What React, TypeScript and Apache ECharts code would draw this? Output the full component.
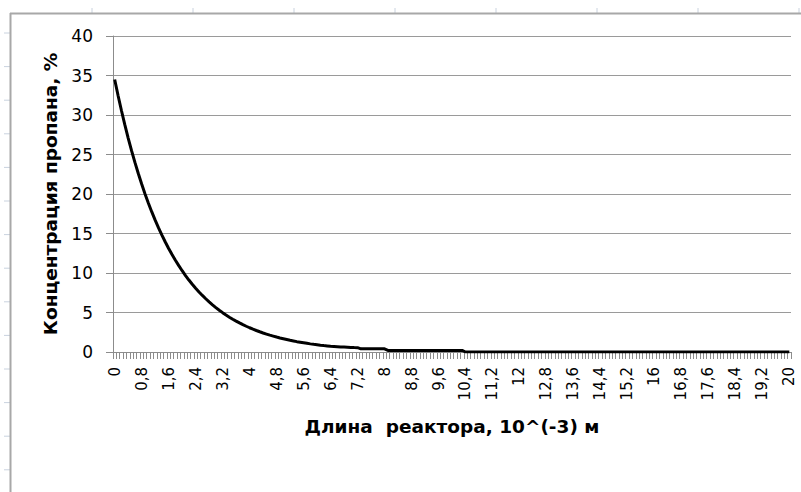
import React, { useEffect, useRef } from "react";
import * as echarts from "echarts";

// Длина реактора, 10^(-3) м : 0 .. 20 step 0.1
const categories: string[] = [];
for (let i = 0; i <= 200; i++) {
  categories.push(String(Number((i / 10).toFixed(1))).replace(".", ","));
}

// Концентрация пропана, %
const concentration: number[] = [
  34.5, 32.47, 30.57, 28.77, 27.08, 25.49, 24.0, 22.59, 21.26, 20.01,
  18.84, 17.73, 16.69, 15.71, 14.79, 13.92, 13.1, 12.33, 11.61, 10.93,
  10.29, 9.68, 9.11, 8.58, 8.08, 7.6, 7.16, 6.74, 6.34, 5.97,
  5.62, 5.29, 4.98, 4.68, 4.41, 4.15, 3.91, 3.68, 3.46, 3.26,
  3.07, 2.89, 2.72, 2.56, 2.41, 2.27, 2.13, 2.01, 1.89, 1.78,
  1.68, 1.58, 1.48, 1.4, 1.31, 1.24, 1.17, 1.1, 1.03, 0.97,
  0.92, 0.86, 0.81, 0.77, 0.73, 0.7, 0.67, 0.64, 0.62, 0.6,
  0.58, 0.56, 0.55, 0.4, 0.4, 0.4, 0.4, 0.4, 0.4, 0.4,
  0.4, 0.2, 0.2, 0.2, 0.2, 0.2, 0.2, 0.2, 0.2, 0.2,
  0.2, 0.2, 0.2, 0.2, 0.2, 0.2, 0.2, 0.2, 0.2, 0.2,
  0.2, 0.2, 0.2, 0.2, 0, 0, 0, 0, 0, 0,
  0, 0, 0, 0, 0, 0, 0, 0, 0, 0,
  0, 0, 0, 0, 0, 0, 0, 0, 0, 0,
  0, 0, 0, 0, 0, 0, 0, 0, 0, 0,
  0, 0, 0, 0, 0, 0, 0, 0, 0, 0,
  0, 0, 0, 0, 0, 0, 0, 0, 0, 0,
  0, 0, 0, 0, 0, 0, 0, 0, 0, 0,
  0, 0, 0, 0, 0, 0, 0, 0, 0, 0,
  0, 0, 0, 0, 0, 0, 0, 0, 0, 0,
  0, 0, 0, 0, 0, 0, 0, 0, 0, 0,
  0,
];

const xAxisTitle = "Длина  реактора, 10^(-3) м";
const yAxisTitle = "Концентрация пропана, %";

const yMin = 0;
const yMax = 40;
const yStep = 5;

export default function App() {
  const ref = useRef<HTMLDivElement>(null);

  useEffect(() => {
    if (!ref.current) return;
    const chart = echarts.init(ref.current, undefined, { renderer: "svg" });

    const sheetMarks: any[] = [];
    for (let k = 0; k < 14; k++) {
      const y = 33 + k * 33.6;
      sheetMarks.push({
        type: "line",
        shape: { x1: 4, y1: y, x2: 10, y2: y },
        style: { stroke: "#c9d2de", lineWidth: 1 },
        silent: true,
      });
    }
    for (let k = 0; k < 8; k++) {
      const x = 92 + k * 101;
      sheetMarks.push({
        type: "line",
        shape: { x1: x, y1: 8, x2: x, y2: 13 },
        style: { stroke: "#c9d2de", lineWidth: 1 },
        silent: true,
      });
    }

    const option: any = {
      animation: false,
      backgroundColor: "#ffffff",
      graphic: [
        ...sheetMarks,
        {
          type: "line",
          shape: { x1: 10.5, y1: 13, x2: 10.5, y2: 492 },
          style: { stroke: "#a8a8a8", lineWidth: 2 },
          silent: true,
        },
        {
          type: "line",
          shape: { x1: 10, y1: 13.5, x2: 801, y2: 13.5 },
          style: { stroke: "#a8a8a8", lineWidth: 2 },
          silent: true,
        },
      ],
      grid: { left: 113, top: 36, width: 678, height: 316 },
      xAxis: {
        type: "category",
        data: categories,
        boundaryGap: true,
        name: xAxisTitle,
        nameLocation: "middle",
        nameGap: 65,
        nameTextStyle: {
          fontFamily: "DejaVu Sans",
          fontWeight: "bold",
          fontSize: 18.5,
          color: "#000",
        },
        axisLine: { lineStyle: { color: "#8c8c8c", width: 1 } },
        axisTick: {
          show: true,
          interval: 0,
          length: 7,
          lineStyle: { color: "#8c8c8c", width: 1 },
        },
        axisLabel: {
          interval: 7,
          rotate: 90,
          margin: 15,
          fontFamily: "DejaVu Sans",
          fontSize: 15,
          color: "#000",
        },
        splitLine: { show: false },
      },
      yAxis: {
        type: "value",
        min: yMin,
        max: yMax,
        interval: yStep,
        name: yAxisTitle,
        nameLocation: "middle",
        nameGap: 50,
        nameTextStyle: {
          fontFamily: "DejaVu Sans",
          fontWeight: "bold",
          fontSize: 18.5,
          color: "#000",
        },
        axisLine: { show: true, lineStyle: { color: "#8c8c8c", width: 1 } },
        axisTick: { show: true, length: 7, lineStyle: { color: "#8c8c8c" } },
        axisLabel: {
          margin: 20,
          fontFamily: "DejaVu Sans",
          fontSize: 17,
          color: "#000",
        },
        splitLine: { show: true, lineStyle: { color: "#9a9a9a", width: 1 } },
      },
      series: [
        {
          type: "line",
          data: concentration,
          symbol: "none",
          showSymbol: false,
          lineStyle: { color: "#000", width: 3 },
          itemStyle: { color: "#000" },
          z: 5,
        },
      ],
    };

    chart.setOption(option);
    return () => chart.dispose();
  }, []);

  return (
    <div
      ref={ref}
      style={{ position: "fixed", left: 0, top: 0, width: 801, height: 492 }}
    />
  );
}
